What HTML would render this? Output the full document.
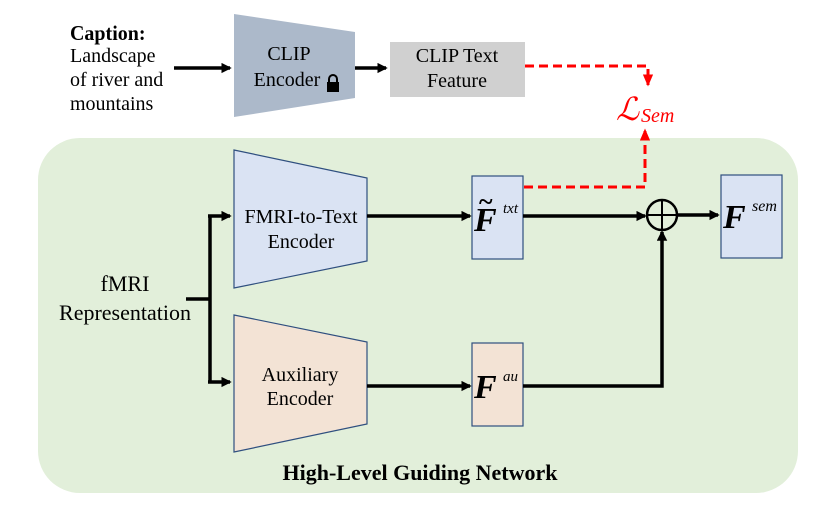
<!DOCTYPE html>
<html><head><meta charset="utf-8"><style>
body{margin:0;background:#fff;width:830px;height:506px;overflow:hidden}
svg text{font-family:"Liberation Serif",serif}
</style></head><body>
<svg width="830" height="506" viewBox="0 0 830 506" xmlns="http://www.w3.org/2000/svg">
<defs>
<marker id="ab" markerWidth="3" markerHeight="3" refX="2.5" refY="1.5" orient="auto" markerUnits="strokeWidth"><path d="M0,0 L3,1.5 L0,3 z" fill="#000"/></marker>
<marker id="ar" markerWidth="4" markerHeight="3.4" refX="3.5" refY="1.7" orient="auto" markerUnits="strokeWidth"><path d="M0,0 L4,1.7 L0,3.4 z" fill="#f00"/></marker>
</defs>
<rect x="38" y="138" width="760" height="355" rx="42" fill="#e2efda"/>
<text x="70" y="38" font-size="20" font-weight="bold" transform="translate(70 0) scale(1 1.05) translate(-70 0)">Caption:</text>
<text x="70" y="62" font-size="20">Landscape</text>
<text x="70" y="86" font-size="20">of river and</text>
<text x="70" y="110" font-size="20">mountains</text>
<line x1="174" y1="68" x2="230" y2="68" stroke="#000" stroke-width="3.5" marker-end="url(#ab)"/>
<polygon points="234,14 355,32 355,98 234,117" fill="#acb9ca"/>
<text x="289" y="60" font-size="20" text-anchor="middle">CLIP</text>
<text x="287" y="86" font-size="20" text-anchor="middle">Encoder</text>
<rect x="327" y="82" width="12" height="10" fill="#000"/>
<path d="M329,83 v-4 a4,4 0 0 1 8,0 v4" fill="none" stroke="#000" stroke-width="2"/>
<line x1="355" y1="68" x2="386" y2="68" stroke="#000" stroke-width="3.5" marker-end="url(#ab)"/>
<rect x="390" y="42" width="135" height="55" fill="#d0d0d0"/>
<text x="457" y="62" font-size="20" text-anchor="middle">CLIP Text</text>
<text x="457" y="87" font-size="20" text-anchor="middle">Feature</text>
<path d="M525,66 H648 V85" fill="none" stroke="#f00" stroke-width="3" stroke-dasharray="9,5" marker-end="url(#ar)"/>
<text x="616" y="120" font-size="32" fill="#f00" font-style="italic">ℒ</text>
<text x="641" y="122" font-size="20" fill="#f00" font-style="italic">Sem</text>
<path d="M524,187 H645 V130" fill="none" stroke="#f00" stroke-width="3" stroke-dasharray="9,5" marker-end="url(#ar)"/>
<text x="125" y="291" font-size="22" text-anchor="middle">fMRI</text>
<text x="125" y="320" font-size="22" text-anchor="middle">Representation</text>
<path d="M186,299 H210" stroke="#000" stroke-width="3.5"/>
<path d="M210,216 V382" stroke="#000" stroke-width="3.5" fill="none"/>
<line x1="208" y1="216" x2="230" y2="216" stroke="#000" stroke-width="3.5" marker-end="url(#ab)"/>
<line x1="208" y1="382" x2="230" y2="382" stroke="#000" stroke-width="3.5" marker-end="url(#ab)"/>
<polygon points="234,150 367,178 367,261 234,288" fill="#dae3f3" stroke="#2f4f7f" stroke-width="1.2"/>
<text x="301" y="223" font-size="20" text-anchor="middle">FMRI-to-Text</text>
<text x="301" y="248" font-size="20" text-anchor="middle">Encoder</text>
<polygon points="234,315 367,342 367,424 234,452" fill="#f3e3d5" stroke="#2f4f7f" stroke-width="1.2"/>
<text x="300" y="381" font-size="20" text-anchor="middle">Auxiliary</text>
<text x="300" y="405" font-size="20" text-anchor="middle">Encoder</text>
<line x1="367" y1="216" x2="470" y2="216" stroke="#000" stroke-width="3.5" marker-end="url(#ab)"/>
<line x1="367" y1="386" x2="470" y2="386" stroke="#000" stroke-width="3.5" marker-end="url(#ab)"/>
<rect x="472" y="176" width="51" height="83" fill="#dae3f3" stroke="#2f4f7f" stroke-width="1.2"/>
<text x="474" y="231" font-size="34" font-weight="bold" font-style="italic">F</text>
<text x="479" y="210" font-size="26" font-weight="bold">~</text>
<text x="503" y="213" font-size="15" font-style="italic">txt</text>
<rect x="472" y="343" width="51" height="83" fill="#f3e3d5" stroke="#2f4f7f" stroke-width="1.2"/>
<text x="474" y="398" font-size="34" font-weight="bold" font-style="italic">F</text>
<text x="503" y="381" font-size="15" font-style="italic">au</text>
<line x1="523" y1="216" x2="645" y2="216" stroke="#000" stroke-width="3.5" marker-end="url(#ab)"/>
<path d="M523,386 H662 V232" fill="none" stroke="#000" stroke-width="3.5" marker-end="url(#ab)"/>
<circle cx="662" cy="215" r="15" fill="none" stroke="#000" stroke-width="2.5"/>
<path d="M647,215 H677 M662,200 V230" stroke="#000" stroke-width="2"/>
<line x1="677" y1="215" x2="718" y2="215" stroke="#000" stroke-width="3.5" marker-end="url(#ab)"/>
<rect x="721" y="175" width="61" height="83" fill="#dae3f3" stroke="#2f4f7f" stroke-width="1.2"/>
<text x="723" y="228" font-size="34" font-weight="bold" font-style="italic">F</text>
<text x="752" y="211" font-size="16" font-style="italic">sem</text>
<text x="420" y="480" font-size="22" font-weight="bold" text-anchor="middle">High-Level Guiding Network</text>
</svg>
</body></html>
